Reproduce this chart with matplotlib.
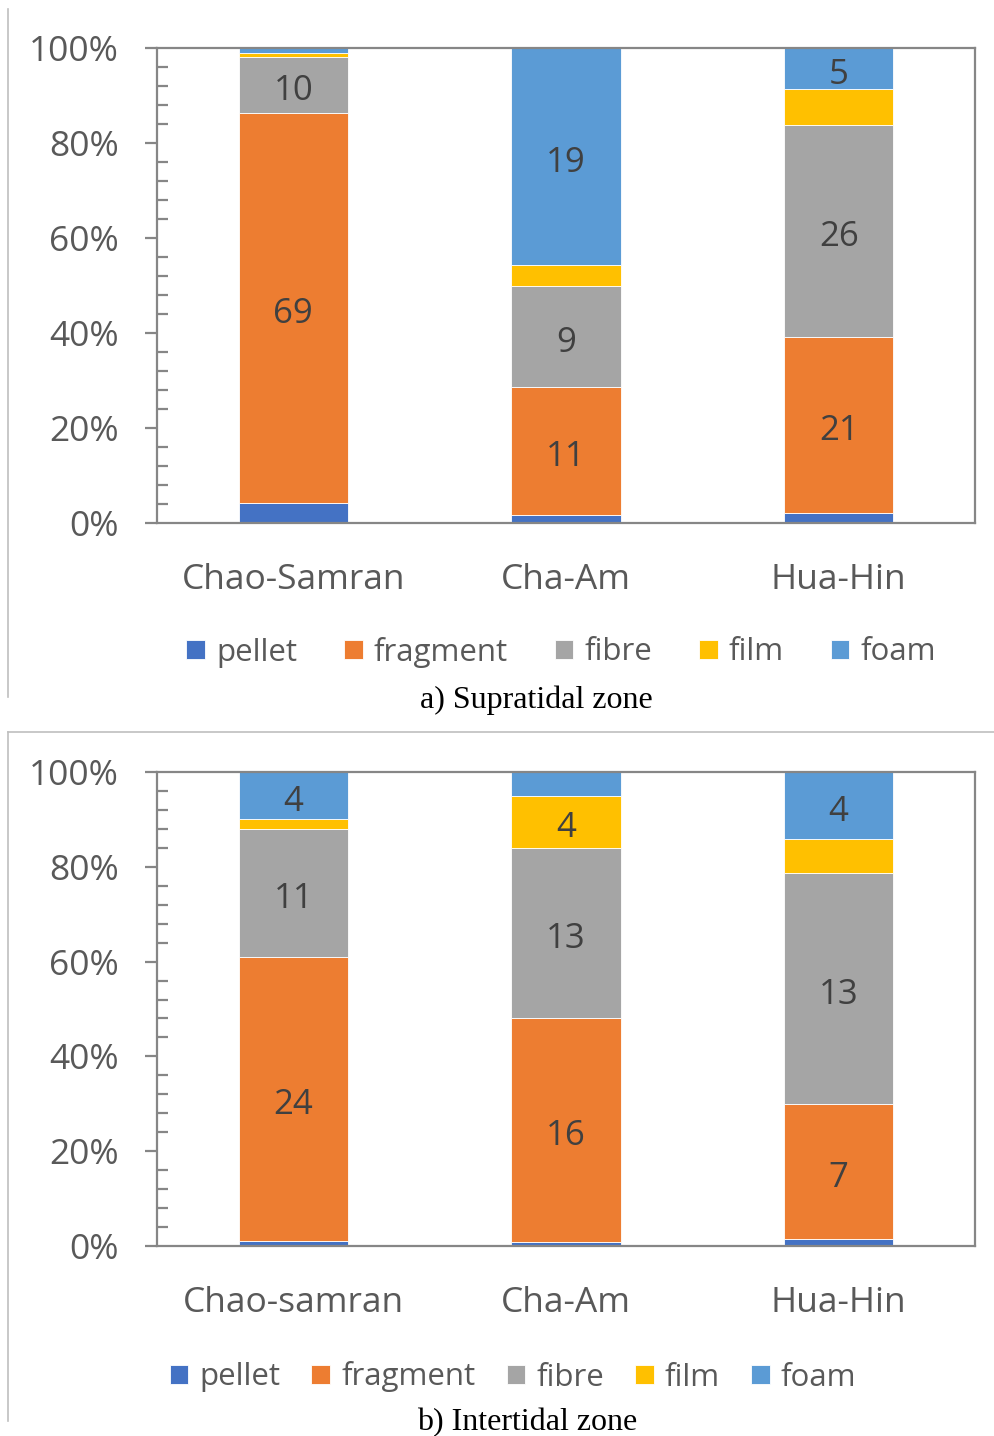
import numpy as np
import matplotlib
matplotlib.use('Agg')
import matplotlib.pyplot as plt
from matplotlib.lines import Line2D
from matplotlib.ticker import MultipleLocator, PercentFormatter

# categories of particle shape, bottom to top
types = ['pellet', 'fragment', 'fibre', 'film', 'foam']
colors = ['#4472C4', '#ED7D31', '#A5A5A5', '#FFC000', '#5B9BD5']

# a) supratidal zone: share of each type (%) per beach
sites_a = ['Chao-Samran', 'Cha-Am', 'Hua-Hin']
pct_a = {
    'pellet':   [4.2, 1.7, 2.1],
    'fragment': [82.1, 26.9, 37.1],
    'fibre':    [11.8, 21.3, 44.6],
    'film':     [0.9, 4.4, 7.6],
    'foam':     [1.0, 45.7, 8.6],
}
labels_a = {
    'pellet':   ['', '', ''],
    'fragment': ['69', '11', '21'],
    'fibre':    ['10', '9', '26'],
    'film':     ['', '', ''],
    'foam':     ['', '19', '5'],
}

# b) intertidal zone
sites_b = ['Chao-samran', 'Cha-Am', 'Hua-Hin']
pct_b = {
    'pellet':   [1.0, 0.8, 1.5],
    'fragment': [60.0, 47.3, 28.5],
    'fibre':    [27.0, 35.9, 48.7],
    'film':     [2.0, 10.9, 7.2],
    'foam':     [10.0, 5.1, 14.1],
}
labels_b = {
    'pellet':   ['', '', ''],
    'fragment': ['24', '16', '7'],
    'fibre':    ['11', '13', '13'],
    'film':     ['', '4', ''],
    'foam':     ['4', '', '4'],
}

TICK_COL = '#595959'
SPINE_COL = '#868686'
LABEL_COL = '#404040'
FONT = 'Open Sans'

W, H = 994, 1436
fig = plt.figure(figsize=(W / 100, H / 100), dpi=100)


def draw_panel(rect, sites, pct, labels, leg_xy, colspace):
    ax = fig.add_axes(rect)
    x = np.arange(len(sites))
    bottom = np.zeros(len(sites))
    handles = []
    for t, c in zip(types, colors):
        vals = np.array(pct[t])
        bars = ax.bar(x, vals, 0.4, bottom=bottom, color=c,
                      edgecolor='white', linewidth=0.6, label=t, zorder=2)
        handles.append(bars)
        for xi, b, v, lab in zip(x, bottom, vals, labels[t]):
            if lab:
                ax.annotate(lab, (xi, b + v / 2), xytext=(0, -4.5),
                            textcoords='offset points', ha='center', va='center',
                            fontsize=25, color=LABEL_COL, family=FONT, zorder=3)
        bottom += vals

    ax.set_xlim(-0.5, len(sites) - 0.5)
    ax.set_ylim(0, 100)
    ax.yaxis.set_major_locator(MultipleLocator(20))
    ax.yaxis.set_minor_locator(MultipleLocator(4))
    ax.yaxis.set_major_formatter(PercentFormatter(decimals=0))
    ax.tick_params(axis='y', which='major', direction='out', length=8.6,
                   width=1.6, color=SPINE_COL, pad=19, labelsize=25.5,
                   labelcolor=TICK_COL)
    ax.tick_params(axis='y', which='minor', direction='in', length=8,
                   width=1.6, color=SPINE_COL)
    ax.set_xticks(x)
    ax.set_xticklabels(sites)
    ax.tick_params(axis='x', length=0, pad=28.5, labelsize=25.5, labelcolor=TICK_COL)
    for lab in ax.get_xticklabels() + ax.get_yticklabels():
        lab.set_family(FONT)
    for s in ax.spines.values():
        s.set_color(SPINE_COL)
        s.set_linewidth(1.6)

    leg = fig.legend(handles=handles, labels=types, loc='center',
                     bbox_to_anchor=leg_xy, ncol=5, frameon=False,
                     handlelength=0.6, handleheight=0.6, handletextpad=0.35,
                     columnspacing=colspace,
                     prop={'family': FONT, 'size': 22.5})
    for txt in leg.get_texts():
        txt.set_color(TICK_COL)
    return ax


draw_panel([157 / W, 1 - 523 / H, 818 / W, 475 / H], sites_a, pct_a, labels_a,
           (561 / W, 1 - 652 / H), 1.5)
draw_panel([157 / W, 1 - 1246 / H, 818 / W, 474 / H], sites_b, pct_b, labels_b,
           (513 / W, 1 - 1377 / H), 1.0)

fig.text(536 / W, 1 - 700 / H, 'a) Supratidal zone', ha='center', va='center',
         family='Liberation Serif', fontsize=23, color='black')
fig.text(527 / W, 1 - 1423 / H, 'b) Intertidal zone', ha='center', va='center',
         family='Liberation Serif', fontsize=23, color='black')

# thin frames around the two chart areas
border = dict(color='#BFBFBF', linewidth=1.2, transform=fig.transFigure)
fig.add_artist(Line2D([8 / W, 8 / W], [1 - 9 / H, 1 - 697 / H], **border))
fig.add_artist(Line2D([8 / W, 1.0], [1 - 732 / H, 1 - 732 / H], **border))
fig.add_artist(Line2D([8 / W, 8 / W], [1 - 732 / H, 1 - 1421 / H], **border))

fig.savefig('out.png', dpi=100, facecolor='white')
